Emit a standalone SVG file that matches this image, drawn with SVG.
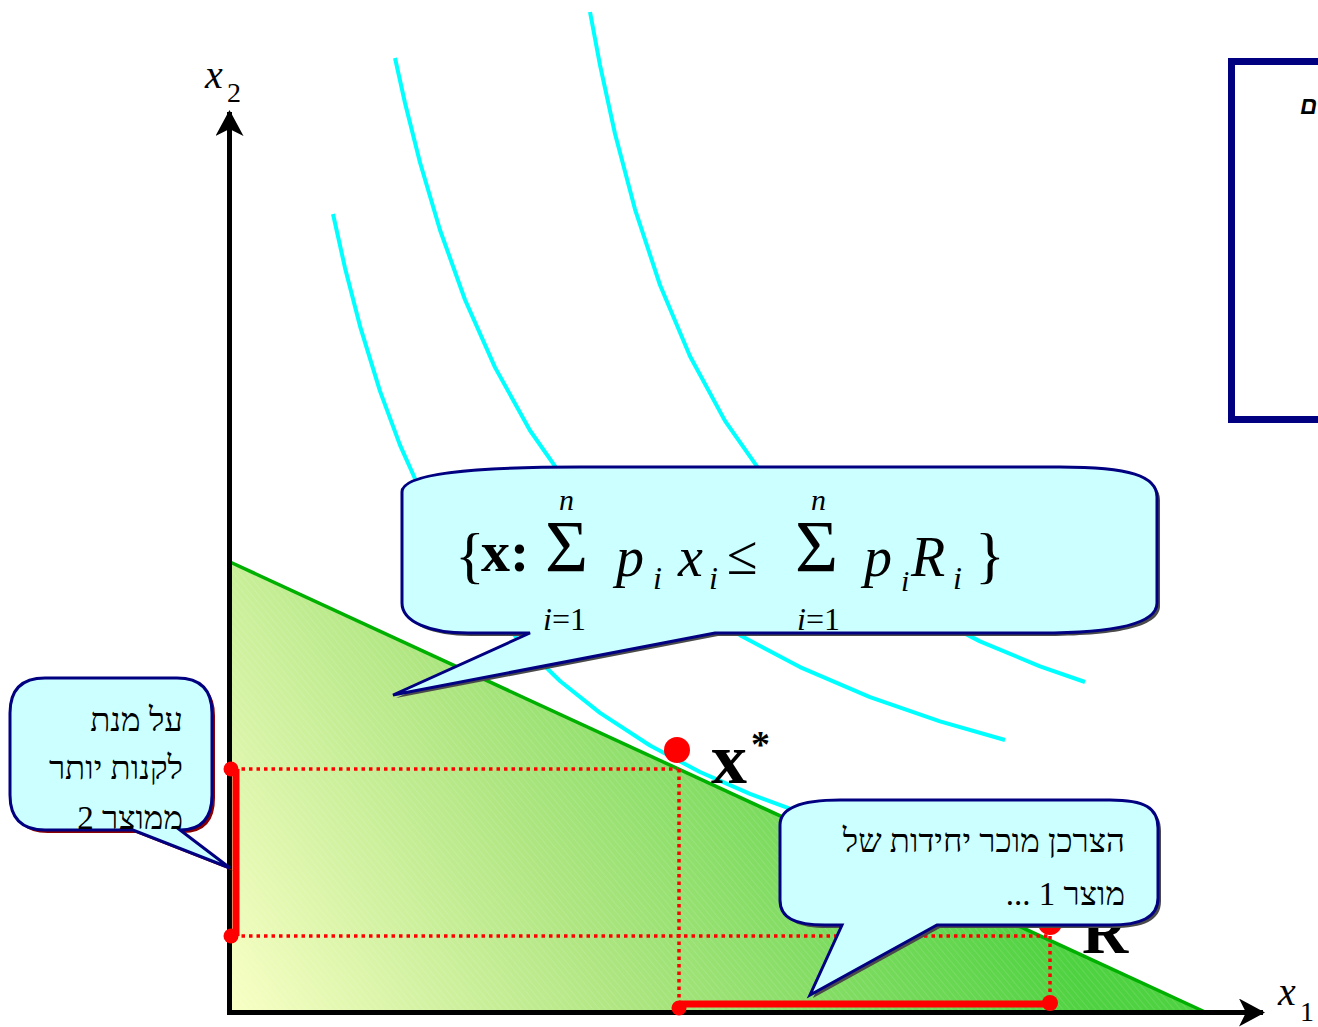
<svg xmlns="http://www.w3.org/2000/svg" width="1318" height="1027" viewBox="0 0 1318 1027">
<defs>
  <linearGradient id="gfill" gradientUnits="userSpaceOnUse" x1="235" y1="1012" x2="880" y2="640">
    <stop offset="0" stop-color="#F8FFC4"/>
    <stop offset="0.45" stop-color="#B0E682"/>
    <stop offset="1" stop-color="#4FD241"/>
  </linearGradient>
  <pattern id="hatch" width="5" height="5" patternUnits="userSpaceOnUse" patternTransform="rotate(-40)">
    <line x1="0" y1="0" x2="0" y2="5" stroke="#ffffff" stroke-opacity="0.22" stroke-width="1"/>
  </pattern>
  <marker id="arrow" viewBox="0 0 26 28" refX="24" refY="14" markerWidth="26" markerHeight="28" markerUnits="userSpaceOnUse" orient="auto">
    <path d="M0,0 L26,14 L0,28 L7,14 Z" fill="#000"/>
  </marker>
</defs>
<style>
  .ic { fill: none; stroke: #00FFFF; stroke-width: 4; stroke-linecap: butt; stroke-linejoin: round; }
  .dot { fill: #FF0000; }
  .dotted { stroke: #FF0000; stroke-width: 3.5; stroke-dasharray: 3.5 4; fill: none; }
  .thick { stroke: #FF0000; stroke-width: 7; fill: none; }
  .axis { stroke: #000; stroke-width: 5; fill: none; }
  .bubble { fill: #CCFFFF; stroke: #000080; stroke-width: 3; stroke-linejoin: miter; }
  .shadow { fill: #4a4a4a; }
  .serif { font-family: "Liberation Serif", "Times New Roman", serif; fill: #000; }
  .heb { font-family: "Liberation Serif", "DejaVu Serif", "DejaVu Sans", serif; font-size: 33px; fill: #000; direction: rtl; unicode-bidi: embed; }
  .it { font-style: italic; }
  .bd { font-weight: bold; }
</style>
<rect width="1318" height="1027" fill="#ffffff"/>

<g id="budget-set">
  <polygon points="230,562 1205,1012 230,1012" fill="url(#gfill)"/>
  <polygon points="230,562 1205,1012 230,1012" fill="url(#hatch)"/>
  <line x1="230" y1="562" x2="1205" y2="1012" stroke="#00B000" stroke-width="3.5"/>
</g>

<g id="indifference-curves">
  <polyline class="ic" points="333,214 345,267.9 360,326.1 380,391.1 400,445.1 425,501 450,547.1 480,592.9 520,641.9 560,681 600,712.9 650,745.5 700,772 750,793.9 800,812.4 850,828.2 900,841.9"/>
  <polyline class="ic" points="395,58 405,103 420,162.5 440,230 465,299.7 495,367.4 530,430.5 570,487.7 620,543.7 680,595.3 740,635.2 800,667.1 870,697.1 940,721.3 1005,740"/>
  <polyline class="ic" points="590,12 600,65.1 615,133.7 635,209.3 660,285 690,356.3 725,420.9 765,477.9 810,527.6 860,570.5 920,610.3 980,641.4 1040,666.3 1085,682"/>
</g>

<g id="guides">
  <line class="dotted" x1="234" y1="769" x2="677" y2="769"/>
  <line class="dotted" x1="679" y1="769" x2="679" y2="1003"/>
  <line class="dotted" x1="234" y1="936" x2="1050" y2="936"/>
  <line class="dotted" x1="1050" y1="936" x2="1050" y2="1003"/>
</g>

<g id="axes">
  <line class="axis" x1="229.5" y1="1012.5" x2="229.5" y2="112" marker-end="url(#arrow)"/>
  <line class="axis" x1="227" y1="1012.5" x2="1263" y2="1012.5" marker-end="url(#arrow)"/>
  <text class="serif it" x="205" y="88" font-size="40">x</text>
  <text class="serif" x="227" y="102" font-size="28">2</text>
  <text class="serif it" x="1278" y="1005" font-size="40">x</text>
  <text class="serif" x="1300" y="1021" font-size="28">1</text>
</g>

<g id="segments">
  <line class="thick" x1="236" y1="769" x2="236" y2="936"/>
  <circle class="dot" cx="231" cy="769" r="7.5"/>
  <circle class="dot" cx="231" cy="936" r="7.5"/>
  <line class="thick" x1="679" y1="1004" x2="1050" y2="1004"/>
  <circle class="dot" cx="679" cy="1008" r="7.5"/>
  <circle class="dot" cx="1050" cy="1003" r="8"/>
</g>

<g id="point-xstar">
  <circle class="dot" cx="677" cy="750" r="13"/>
  <text class="serif bd" x="711" y="783" font-size="72">x</text>
  <text class="serif bd" x="751" y="757" font-size="38">*</text>
</g>

<g id="point-R">
  <circle class="dot" cx="1050" cy="923" r="12"/>
  <text class="serif bd" x="1082" y="953" font-size="64">R</text>
</g>

<g id="panel">
  <rect x="1231.5" y="61.5" width="200" height="358" fill="#ffffff" stroke="#000080" stroke-width="7"/>
  <text x="1300" y="114" font-family="Liberation Sans, Arial, sans-serif" font-weight="bold" font-style="italic" font-size="24" fill="#000">ם</text>
</g>

<g id="callout-formula">
  <path class="shadow" transform="translate(3,3)" d="M402,492 C402,474 470,467 580,467 L1060,467 C1130,467 1157,476 1157,497 L1157,603 C1157,625 1110,633 1040,633 L715,633 L393,695 L530,633 L468,633 C430,633 402,622 402,603 Z"/>
  <path class="bubble" d="M402,492 C402,474 470,467 580,467 L1060,467 C1130,467 1157,476 1157,497 L1157,603 C1157,625 1110,633 1040,633 L715,633 L393,695 L530,633 L468,633 C430,633 402,622 402,603 Z"/>
  <text class="serif" x="455" y="576" font-size="62">{</text>
  <text class="serif bd" x="481" y="571" font-size="58">x:</text>
  <text class="serif" x="545" y="572" font-size="74">Σ</text>
  <text class="serif it" x="559" y="510" font-size="30">n</text>
  <text class="serif" x="543" y="630" font-size="32"><tspan font-style="italic">i</tspan>=1</text>
  <text class="serif it" x="616" y="576" font-size="56">p</text>
  <text class="serif it" x="653" y="589" font-size="32">i</text>
  <text class="serif it" x="678" y="576" font-size="56">x</text>
  <text class="serif it" x="709" y="589" font-size="32">i</text>
  <text class="serif" x="727" y="574" font-size="56">≤</text>
  <text class="serif" x="795" y="572" font-size="74">Σ</text>
  <text class="serif it" x="811" y="510" font-size="30">n</text>
  <text class="serif" x="797" y="630" font-size="32"><tspan font-style="italic">i</tspan>=1</text>
  <text class="serif it" x="864" y="576" font-size="56">p</text>
  <text class="serif it" x="901" y="591" font-size="30">i</text>
  <text class="serif it" x="911" y="576" font-size="56">R</text>
  <text class="serif it" x="953" y="589" font-size="32">i</text>
  <text class="serif" x="975" y="576" font-size="62">}</text>
</g>

<g id="callout-left">
  <path transform="translate(3,3)" fill="#8B0000" d="M45,678 L177,678 Q212,678 212,713 L212,795 Q212,830 180,830 L230,868 L133,830 L45,830 Q10,830 10,795 L10,713 Q10,678 45,678 Z"/>
  <path class="bubble" d="M45,678 L177,678 Q212,678 212,713 L212,795 Q212,830 180,830 L230,868 L133,830 L45,830 Q10,830 10,795 L10,713 Q10,678 45,678 Z"/>
  <text class="heb" x="183" y="731" text-anchor="start">על מנת</text>
  <text class="heb" x="183" y="779" text-anchor="start">לקנות יותר</text>
  <text class="heb" x="183" y="829" text-anchor="start">ממוצר 2</text>
</g>

<g id="callout-right">
  <path class="shadow" transform="translate(3,3)" d="M780,825 C780,808 800,800 840,800 L1110,800 C1145,800 1158,808 1158,828 L1158,898 C1158,918 1140,925 1110,925 L937,925 L810,995 L842,925 L825,925 C795,925 780,918 780,900 Z"/>
  <path class="bubble" d="M780,825 C780,808 800,800 840,800 L1110,800 C1145,800 1158,808 1158,828 L1158,898 C1158,918 1140,925 1110,925 L937,925 L810,995 L842,925 L825,925 C795,925 780,918 780,900 Z"/>
  <text class="heb" x="1125" y="852" text-anchor="start">הצרכן מוכר יחידות של</text>
  <text class="heb" x="1125" y="905" text-anchor="start">מוצר 1 ...</text>
</g>
</svg>
